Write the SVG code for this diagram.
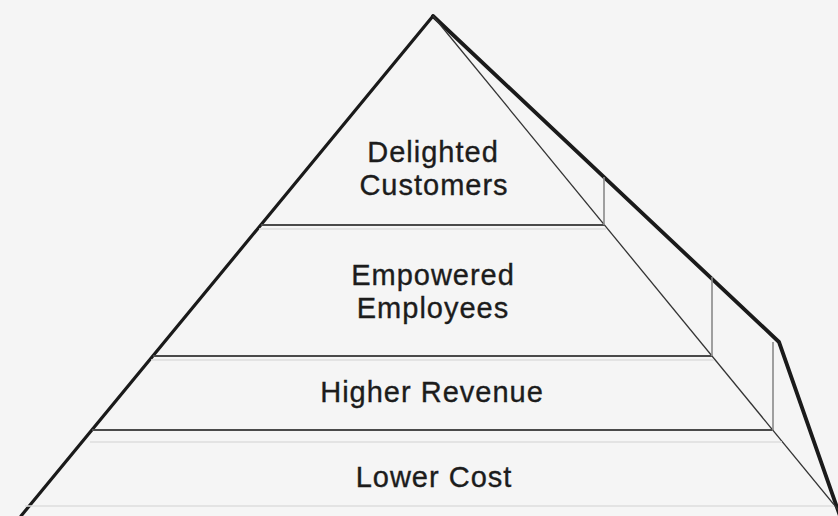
<svg xmlns="http://www.w3.org/2000/svg" width="838" height="516" viewBox="0 0 838 516">
  <style>
    .edge { fill: none; stroke: #1a1a1a; stroke-width: 3.2; stroke-linejoin: round; stroke-linecap: round; }
    .back { fill: none; stroke: #1a1a1a; stroke-width: 3.8; stroke-linejoin: round; stroke-linecap: round; }
    .thin { fill: none; stroke: #333; stroke-width: 1.3; }
    .tick { fill: none; stroke: #8a8a8a; stroke-width: 1.6; }
    .shelf { fill: none; stroke: #4a4a4a; stroke-width: 2; }
    .shade { fill: none; stroke: #dcdcdc; stroke-width: 1.5; }
    .label { font-family: "Liberation Sans", Arial, Helvetica, sans-serif; font-size: 29px; letter-spacing: 1px; fill: #1c1c1c; stroke: #1c1c1c; stroke-width: 0.35; text-anchor: middle; }
  </style>

  <rect width="838" height="516" fill="#f5f5f5"/>

  <!-- pyramid outline: left face, front-right edge and thick back edge -->
  <g id="outline">
    <line class="edge" x1="21" y1="516" x2="433" y2="16"/>
    <polyline class="back" points="433,16 779,342 840,516"/>
    <line class="thin" x1="433" y1="16" x2="840" y2="512"/>
  </g>

  <!-- layer dividers and depth ticks -->
  <g id="layer-delighted-customers">
    <line class="shelf" x1="261" y1="225" x2="604" y2="225"/>
    <line class="shade" x1="259" y1="229" x2="606" y2="229"/>
    <line class="tick" x1="604" y1="177" x2="604" y2="225"/>
    <text class="label" x="433" y="162">Delighted</text>
    <text class="label" x="434" y="195">Customers</text>
  </g>

  <g id="layer-empowered-employees">
    <line class="shelf" x1="153" y1="356" x2="712" y2="356"/>
    <line class="shade" x1="151" y1="360" x2="714" y2="360"/>
    <line class="tick" x1="712" y1="277" x2="712" y2="356"/>
    <text class="label" x="433" y="285">Empowered</text>
    <text class="label" x="433" y="318">Employees</text>
  </g>

  <g id="layer-higher-revenue">
    <line class="shelf" x1="92" y1="430" x2="772" y2="430"/>
    <line class="shade" x1="90" y1="442" x2="782" y2="442"/>
    <line class="tick" x1="773" y1="342" x2="773" y2="430"/>
    <text class="label" x="432" y="402">Higher Revenue</text>
  </g>

  <g id="layer-lower-cost">
    <line class="shade" x1="25" y1="506" x2="834" y2="506"/>
    <text class="label" x="434" y="487">Lower Cost</text>
  </g>
</svg>
